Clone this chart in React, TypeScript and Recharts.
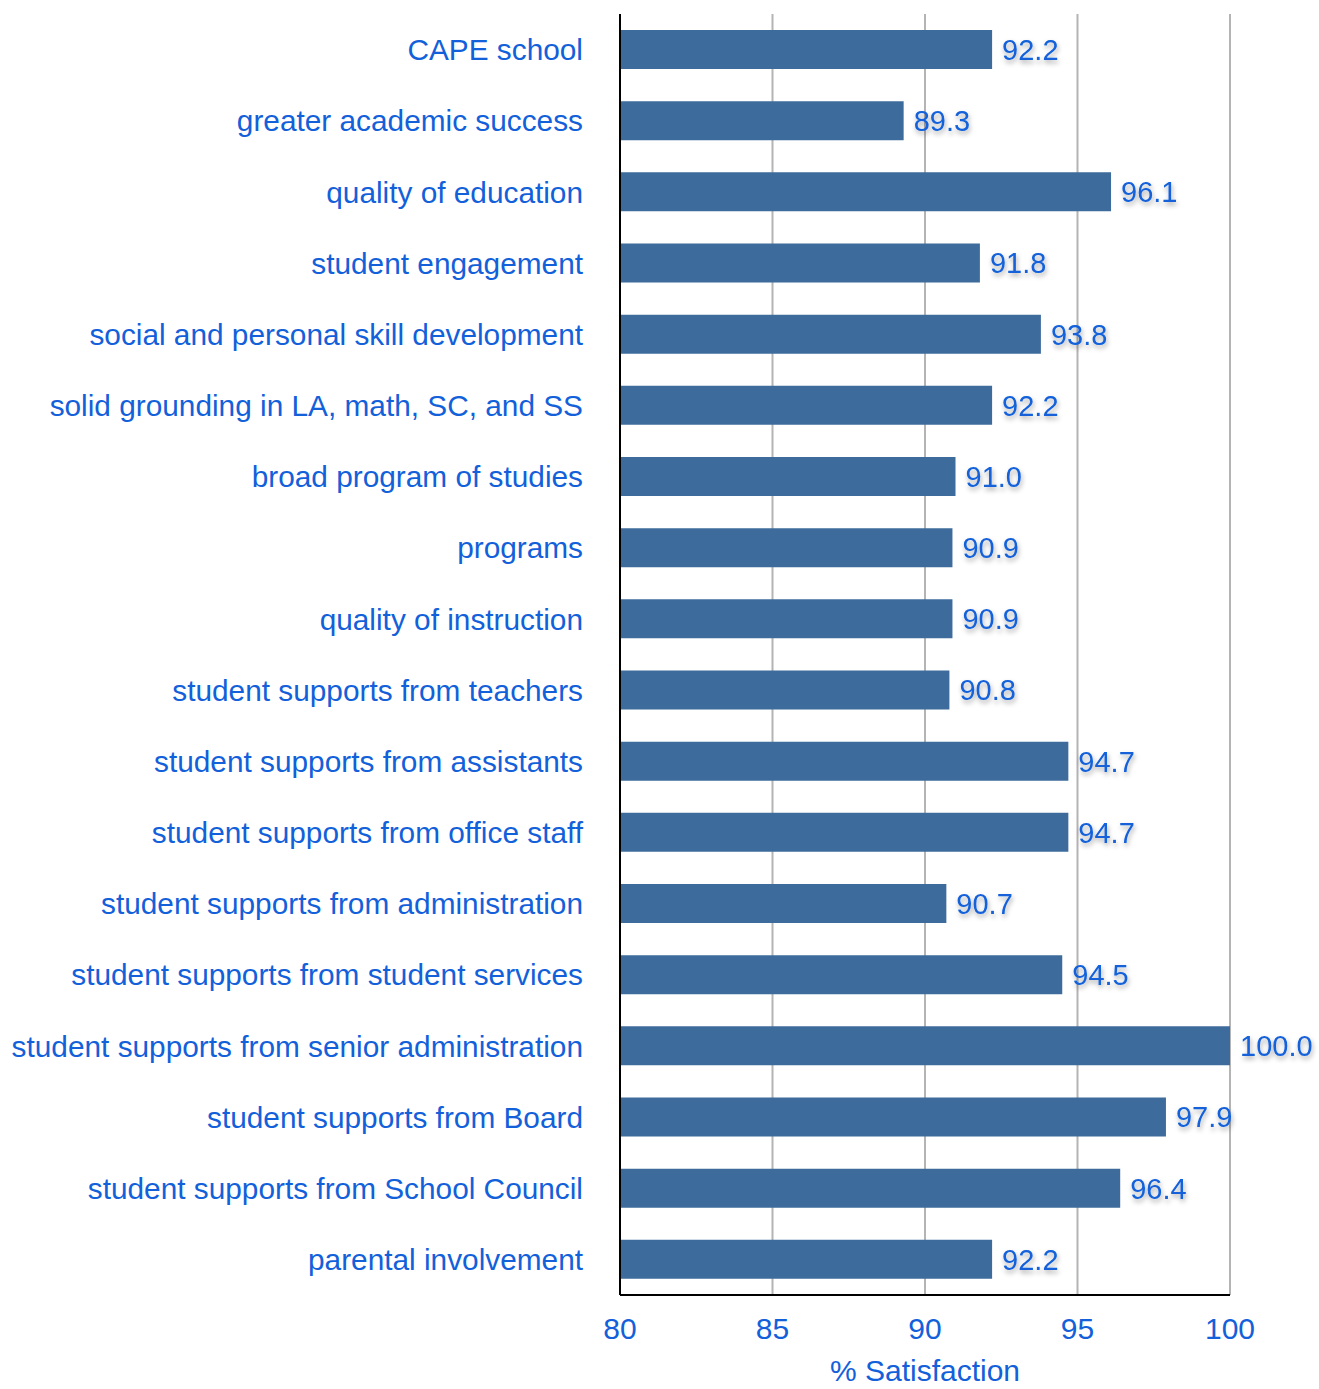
import React from 'react';
import { BarChart, Bar, XAxis, YAxis, CartesianGrid, LabelList } from 'recharts';

const categories = [
  'CAPE school',
  'greater academic success',
  'quality of education',
  'student engagement',
  'social and personal skill development',
  'solid grounding in LA, math, SC, and SS',
  'broad program of studies',
  'programs',
  'quality of instruction',
  'student supports from teachers',
  'student supports from assistants',
  'student supports from office staff',
  'student supports from administration',
  'student supports from student services',
  'student supports from senior administration',
  'student supports from Board',
  'student supports from School Council',
  'parental involvement',
];

const satisfaction = [
  92.2, 89.3, 96.1, 91.8, 93.8, 92.2, 91.0, 90.9, 90.9, 90.8, 94.7, 94.7, 90.7, 94.5, 100.0, 97.9, 96.4, 92.2,
];

const xTicks = [80, 85, 90, 95, 100];

const data = categories.map((name, i) => ({ name, value: satisfaction[i] }));

const BLUE = '#1260da';
const BAR = '#3d6b9b';
const FONT = '"Liberation Sans", Arial, Helvetica, sans-serif';

const CategoryTick = ({ x, y, payload }: any) => (
  <text x={x - 29} y={y} dy="0.36em" textAnchor="end" fill={BLUE} fontSize={29.8} fontFamily={FONT}>
    {payload.value}
  </text>
);

const ValueTick = ({ x, y, payload }: any) => (
  <text x={x} y={y + 25} dy="0.36em" textAnchor="middle" fill={BLUE} fontSize={30} fontFamily={FONT}>
    {payload.value}
  </text>
);

const ValueLabel = ({ x, y, width, height, value }: any) => (
  <text
    x={x + width + 10}
    y={y + height / 2}
    dy="0.36em"
    fill={BLUE}
    fontSize={29}
    fontFamily={FONT}
    filter="url(#labelShadow)"
  >
    {Number(value).toFixed(1)}
  </text>
);

export default function App() {
  return (
    <div style={{ position: 'absolute', top: 0, left: 0, background: '#fff' }}>
      <BarChart
        width={1319}
        height={1389}
        data={data}
        layout="vertical"
        margin={{ top: 14, right: 89, left: 0, bottom: 0 }}
      >
        <defs>
          <filter id="labelShadow" x="-20%" y="-30%" width="150%" height="180%">
            <feDropShadow dx="1" dy="3" stdDeviation="2.5" floodColor="#000" floodOpacity="0.35" />
          </filter>
        </defs>
        <CartesianGrid vertical horizontal={false} stroke="#b4b4b4" strokeWidth={2} />
        <XAxis
          type="number"
          domain={[80, 100]}
          ticks={xTicks}
          allowDataOverflow
          axisLine={{ stroke: '#000', strokeWidth: 2 }}
          tickLine={false}
          tick={<ValueTick />}
          height={94}
          label={{
            value: '% Satisfaction',
            position: 'insideBottom',
            offset: 8,
            fill: BLUE,
            fontSize: 30,
            fontFamily: FONT,
          }}
        />
        <YAxis
          type="category"
          dataKey="name"
          width={620}
          axisLine={{ stroke: '#000', strokeWidth: 2 }}
          tickLine={false}
          tick={<CategoryTick />}
          interval={0}
        />
        <Bar dataKey="value" fill={BAR} barSize={39} isAnimationActive={false}>
          <LabelList dataKey="value" content={<ValueLabel />} />
        </Bar>
      </BarChart>
    </div>
  );
}
